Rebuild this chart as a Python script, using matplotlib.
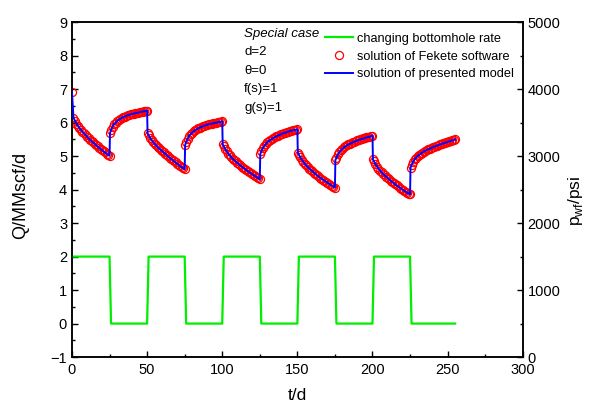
import numpy as np
import matplotlib
matplotlib.use("Agg")
import matplotlib.pyplot as plt
from matplotlib.ticker import MultipleLocator
from matplotlib.lines import Line2D

plt.rcParams['font.family'] = ['Liberation Sans', 'DejaVu Sans']

# Bottomhole rate schedule (MMscf/d): on/off every 25 days
rate_t = [0, 25, 26, 50, 51, 75, 76, 100, 101, 125, 126, 150, 151,
          175, 176, 200, 201, 225, 226, 255]
rate_q = [2, 2, 0, 0, 2, 2, 0, 0, 2, 2, 0, 0, 2, 2, 0, 0, 2, 2, 0, 0]

# Bottomhole pressure (psi) for each 25-day period, sampled daily
period_start = [0, 25, 50, 75, 100, 125, 150, 175, 200, 225]
p_period1 = [3950, 3575, 3525, 3485, 3450, 3420, 3390, 3365, 3340, 3315, 3290,
             3265, 3245, 3225, 3205, 3185, 3165, 3145, 3125, 3105, 3090, 3070,
             3055, 3035, 3020, 3005]
p_period2 = [3340, 3390, 3440, 3475, 3500, 3520, 3540, 3555, 3570, 3580, 3590,
             3600, 3610, 3615, 3625, 3630, 3635, 3640, 3645, 3650, 3655, 3660,
             3665, 3670, 3675, 3680]
p_period3 = [3340, 3310, 3275, 3240, 3210, 3185, 3160, 3135, 3115, 3095, 3075,
             3055, 3035, 3015, 2995, 2975, 2955, 2940, 2920, 2905, 2885, 2870,
             2850, 2835, 2820, 2805]
p_period4 = [3165, 3210, 3260, 3300, 3330, 3350, 3370, 3385, 3400, 3415, 3425,
             3435, 3445, 3455, 3460, 3470, 3475, 3480, 3485, 3490, 3495, 3500,
             3505, 3510, 3515, 3520]
p_period5 = [3175, 3145, 3105, 3070, 3035, 3010, 2985, 2960, 2940, 2920, 2900,
             2880, 2860, 2845, 2825, 2810, 2790, 2775, 2760, 2745, 2730, 2715,
             2700, 2685, 2670, 2655]
p_period6 = [3030, 3070, 3120, 3155, 3180, 3205, 3225, 3240, 3255, 3270, 3285,
             3295, 3305, 3315, 3325, 3335, 3345, 3350, 3360, 3365, 3375, 3380,
             3385, 3390, 3395, 3400]
p_period7 = [3050, 3020, 2980, 2945, 2915, 2885, 2860, 2835, 2815, 2795, 2775,
             2755, 2735, 2715, 2700, 2680, 2665, 2650, 2635, 2620, 2605, 2590,
             2575, 2560, 2545, 2530]
p_period8 = [2940, 2975, 3025, 3060, 3085, 3110, 3130, 3145, 3160, 3175, 3185,
             3195, 3205, 3215, 3225, 3235, 3240, 3250, 3255, 3265, 3270, 3280,
             3285, 3290, 3300, 3305]
p_period9 = [2950, 2920, 2880, 2845, 2815, 2785, 2760, 2735, 2715, 2695, 2675,
             2655, 2635, 2615, 2600, 2580, 2565, 2550, 2530, 2515, 2500, 2485,
             2470, 2455, 2440, 2430]
p_period10 = [2825, 2865, 2915, 2950, 2975, 3000, 3020, 3035, 3050, 3065, 3080,
              3090, 3100, 3110, 3120, 3130, 3140, 3150, 3155, 3165, 3175, 3180,
              3190, 3195, 3205, 3210, 3220, 3225, 3235, 3240, 3250]
pressure_periods = [p_period1, p_period2, p_period3, p_period4, p_period5,
                    p_period6, p_period7, p_period8, p_period9, p_period10]

# time stamps: first sample just after each rate switch, then daily
t_all, p_all = [], []
for k, (t0, vals) in enumerate(zip(period_start, pressure_periods)):
    if k == 0:
        offs = list(range(len(vals)))
    else:
        offs = [0.3] + list(range(1, len(vals)))
    t_all += [t0 + o for o in offs]
    p_all += vals
t_all = np.array(t_all)
p_all = np.array(p_all)

fig = plt.figure(figsize=(5.9, 4.03), dpi=100)
ax = fig.add_axes([0.122, 0.114, 0.764, 0.831])
ax2 = ax.twinx()

green = '#00ee00'
ax.plot(rate_t, rate_q, color=green, lw=1.6, zorder=3)
ax2.plot(t_all, p_all, 'o', ms=5.8, mfc='none', mec='#ff0000', mew=0.9, zorder=2)
ax2.plot(t_all, p_all, color='#0000ff', lw=1.4, zorder=3)

ax.set_xlim(0, 300)
ax.set_ylim(-1, 9)
ax2.set_ylim(0, 5000)
ax.xaxis.set_major_locator(MultipleLocator(50))
ax.xaxis.set_minor_locator(MultipleLocator(25))
ax.yaxis.set_major_locator(MultipleLocator(1))
ax.yaxis.set_minor_locator(MultipleLocator(0.5))
ax2.yaxis.set_major_locator(MultipleLocator(1000))
ax2.yaxis.set_minor_locator(MultipleLocator(500))

for a in (ax, ax2):
    a.tick_params(which='major', direction='in', length=4, width=1.0, labelsize=10.5)
    a.tick_params(which='minor', direction='in', length=2.5, width=1.0)
    for s in a.spines.values():
        s.set_linewidth(1.1)
ax.tick_params(axis='x', pad=4)

ax.set_xlabel('t/d', fontsize=12.5, labelpad=8)
ax.set_ylabel('Q/MMscf/d', fontsize=13)
ax.yaxis.set_label_coords(-0.096, 0.484)
ax2.set_ylabel(r'p$_{\mathregular{wf}}$/psi', fontsize=12.5)
ax2.yaxis.set_label_coords(1.097, 0.466)

# case parameters
ax.text(0.382, 0.965, 'Special case', transform=ax.transAxes, fontsize=9.5,
        style='italic', va='center')
for i, s in enumerate(['d=2', '\u03b8=0', 'f(s)=1', 'g(s)=1']):
    ax.text(0.382, 0.91 - i * 0.055, s, transform=ax.transAxes, fontsize=9.5,
            va='center')

handles = [Line2D([], [], color=green, lw=1.6),
           Line2D([], [], ls='none', marker='o', ms=5.8, mfc='none', mec='#ff0000', mew=0.9),
           Line2D([], [], color='#0000ff', lw=1.4)]
labels = ['changing bottomhole rate', 'solution of Fekete software',
          'solution of presented model']
ax2.legend(handles, labels, loc='upper right', bbox_to_anchor=(1.0, 0.995),
           frameon=False, fontsize=9.2, handlelength=2.2, handletextpad=0.3,
           labelspacing=0.45, borderaxespad=0.3)

fig.savefig('out.png', dpi=100)
